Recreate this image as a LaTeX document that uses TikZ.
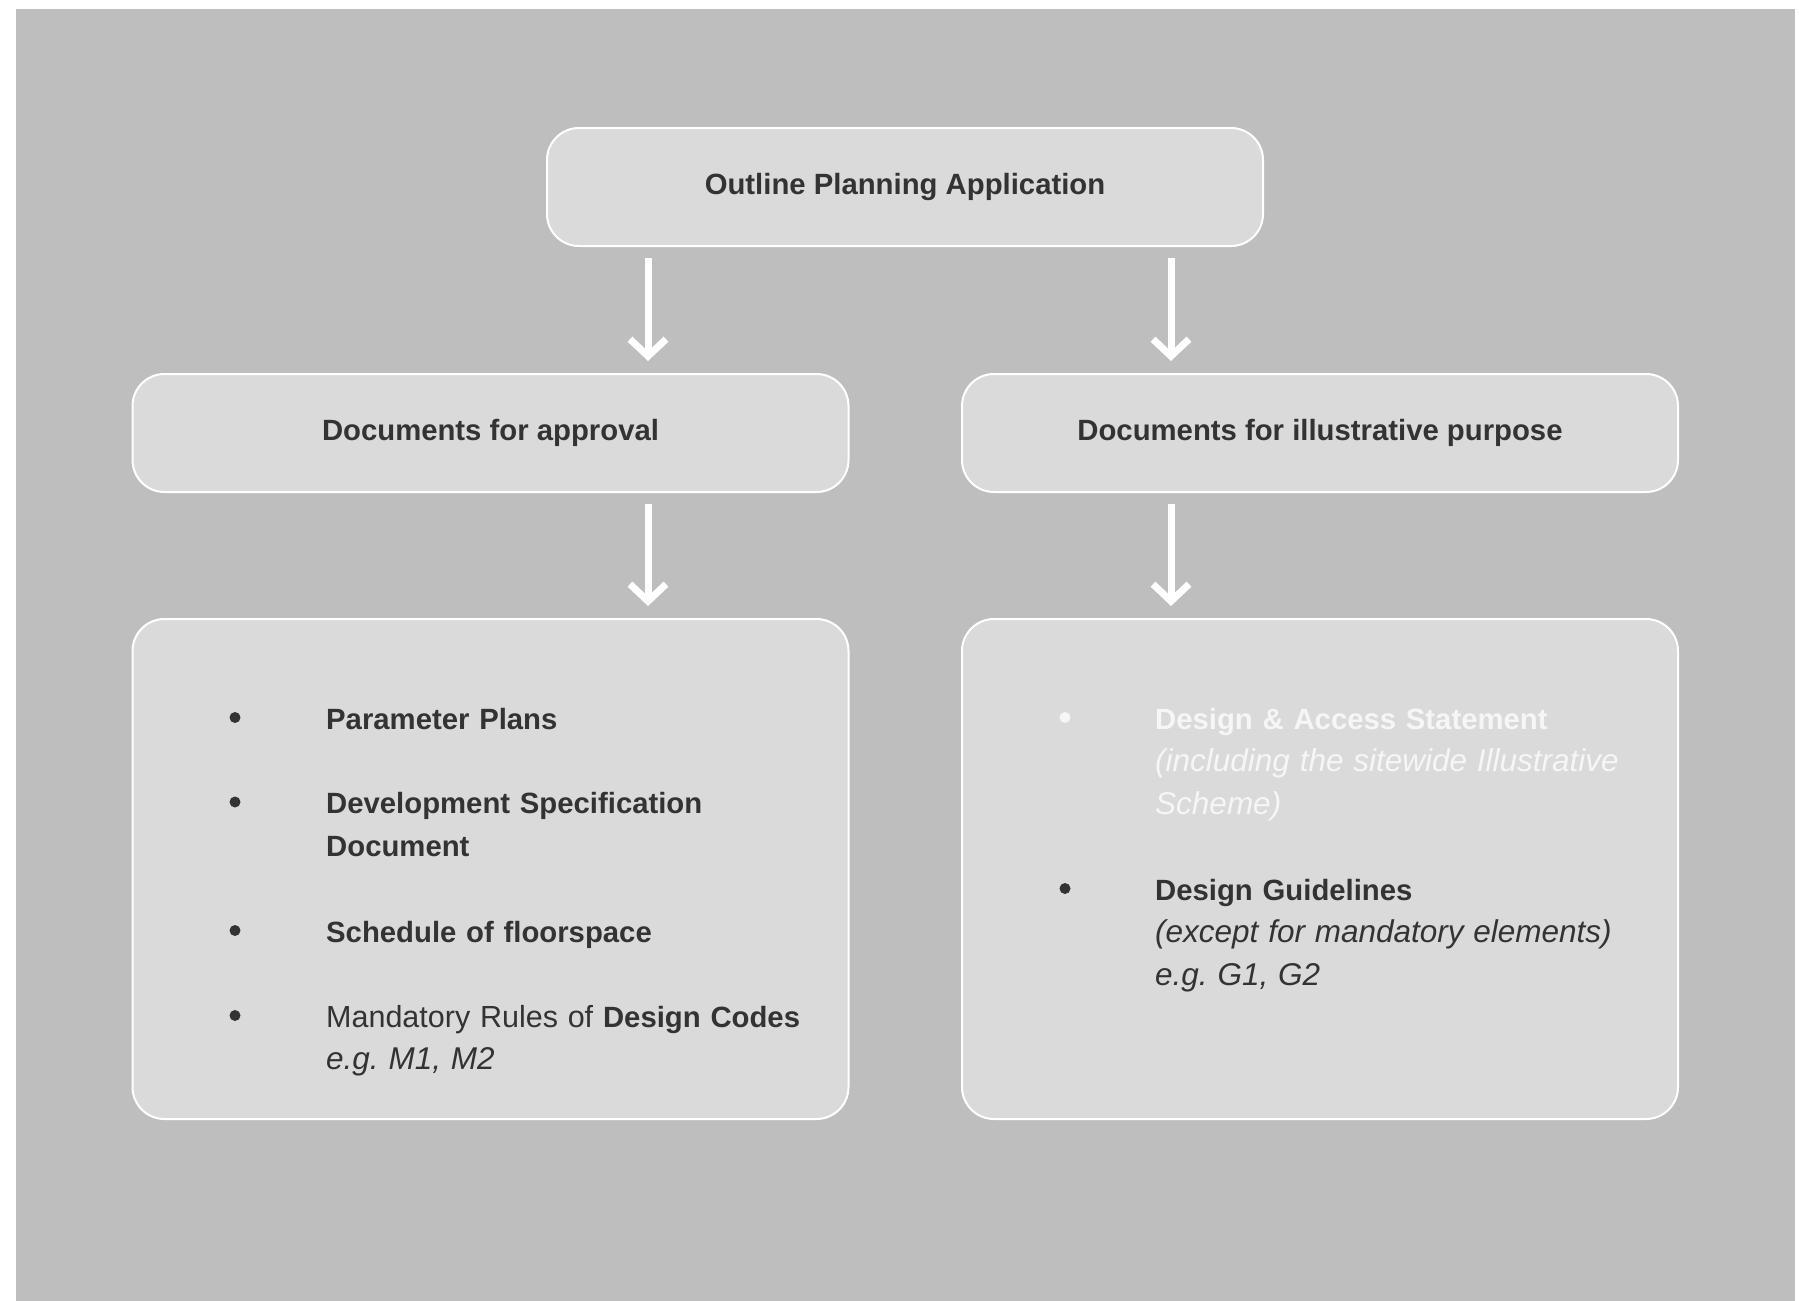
\documentclass[tikz,border=0pt]{standalone}
\usepackage{fontspec}
\setmainfont{Liberation Sans}
\usetikzlibrary{positioning,arrows.meta}
\definecolor{bggray}{HTML}{BEBEBE}
\definecolor{boxgray}{HTML}{DADADA}
\definecolor{ink}{HTML}{333333}
\definecolor{faded}{HTML}{F6F6F6}
\newcommand{\note}[1]{{\fontsize{31.5}{42.6}\selectfont\itshape #1}}
\newcommand{\plain}[1]{{\fontsize{30.5}{42.6}\selectfont #1}}
\tikzstyle{box} = [draw=white, line width=2pt, fill=boxgray, rectangle, rounded corners=32pt, minimum width=716pt, minimum height=118pt, text=ink, text centered, font=\fontsize{29.3}{42.6}\selectfont\bfseries]
\tikzstyle{listbox} = [box, minimum height=500pt]
\tikzstyle{flow} = [draw=white, line width=7pt, -{Straight Barb[length=17pt,width=36pt]}, shorten <=11pt, shorten >=12pt]
\tikzstyle{item} = [anchor=base west, text width=510pt, align=left, inner sep=0pt, text=ink, font=\fontsize{29.3}{42.6}\selectfont\frenchspacing]
\tikzstyle{dot} = [circle, fill=ink, minimum size=11pt, inner sep=0pt]
\begin{document}
\begin{tikzpicture}[x=1pt, y=-1pt, node distance=436pt]
    \useasboundingbox (0,0) rectangle (1799,1301);
    \fill[white] (0,0) rectangle (1799,1301);
    \fill[bggray] (16,9) rectangle (1795,1301);
    % boxes
    \node[box] (opa) at (905,187) {Outline Planning Application};
    \node[box] (apr) at (490.5,433) {Documents for approval};
    \node[box] (ill) at (1320,433) {Documents for illustrative purpose};
    \node[listbox, below of=apr] (aprlist) {};
    \node[listbox, below of=ill] (illlist) {};
    % arrows
    \coordinate (lx) at (648,0);
    \coordinate (rx) at (1171,0);
    \path[flow] (opa.south -| lx) -- (apr.north -| lx);
    \path[flow] (opa.south -| rx) -- (ill.north -| rx);
    \path[flow] (apr.south -| lx) -- (aprlist.north -| lx);
    \path[flow] (ill.south -| rx) -- (illlist.north -| rx);
    % documents for approval
    \node[dot] (d1) at (235,717.5) {};
    \node[item] (plans) at (326,729) {\textbf{Parameter Plans}};
    \node[dot] (d2) at (235,802) {};
    \node[item] (spec) at (326,813.6) {\textbf{Development Specification}\\\textbf{Document}};
    \node[dot] (d3) at (235,930.5) {};
    \node[item] (floor) at (326,942) {\textbf{Schedule of floorspace}};
    \node[dot] (d4) at (235,1015.5) {};
    \node[item] (codes) at (326,1027) {\plain{Mandatory Rules of} \textbf{Design Codes}\\\note{e.g. M1, M2}};
    % documents for illustrative purpose
    \node[dot, fill=faded] (d5) at (1065,717.5) {};
    \node[item, text=faded] (das) at (1155,729) {\textbf{Design \& Access Statement}\\\note{(including the sitewide Illustrative}\\\note{Scheme)}};
    \node[dot] (d6) at (1065,888.5) {};
    \node[item] (guide) at (1155,900) {\textbf{Design Guidelines}\\\note{(except for mandatory elements)}\\\note{e.g. G1, G2}};
\end{tikzpicture}
\end{document}
